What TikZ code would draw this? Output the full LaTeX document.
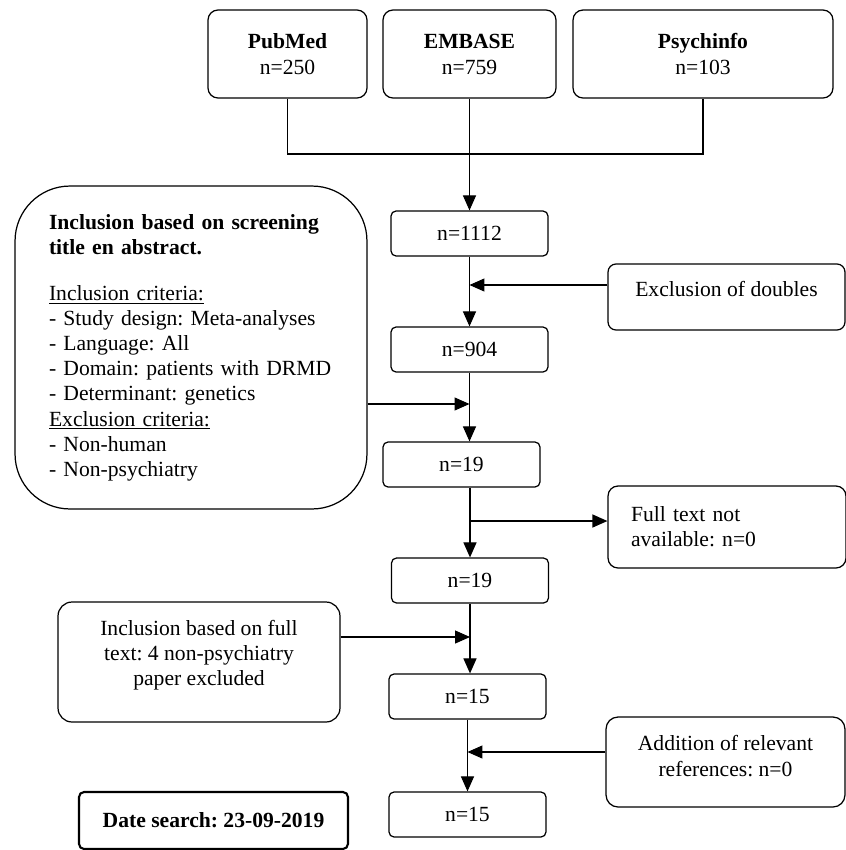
\documentclass[tikz,border=0pt]{standalone}
\usepackage{fontspec}
\setmainfont{Liberation Serif}
\usetikzlibrary{arrows.meta}
\frenchspacing

\tikzset{
  box/.style={draw,line width=0.7pt,inner sep=0pt,align=center},
  source/.style={box,rounded corners=0.2cm,minimum height=1.76cm},
  count/.style={box,rounded corners=0.1cm,minimum width=3.14cm,minimum height=0.9cm},
  flow/.style={line width=0.6pt},
  arrow/.style={flow,-{Triangle[length=8.5pt,width=7.4pt]}}
}

\begin{document}
\begin{tikzpicture}[x=0.02cm,y=-0.02cm,every node/.style={font=\fontsize{12.3}{14.3}\selectfont}]
\useasboundingbox (0,0) rectangle (846,850);
% databases
\node[source,minimum width=3.18cm] (pubmed) at (287.5,54) {\textbf{PubMed}\\[0.5pt]n=250};
\node[source,minimum width=3.46cm] (embase) at (469.5,54) {\textbf{EMBASE}\\[0.5pt]n=759};
\node[source,minimum width=5.2cm] (psych) at (703,54) {\textbf{Psychinfo}\\[0.5pt]n=103};
\coordinate (merge) at (469.5,154);
% counts
\node[count] (n1112) at (469.5,233.5) {n=1112};
\node[count] (n904) at (469.5,349.5) {n=904};
\node[count] (n19a) at (461.5,464.5) {n=19};
\node[count] (n19b) at (470,580.5) {n=19};
\node[count] (n15a) at (467.5,696.5) {n=15};
\node[count] (n15b) at (467.5,814.5) {n=15};
% side boxes
\node[box,rounded corners=1.1cm,minimum width=7.04cm,minimum height=6.46cm,
  text width=5.68cm,align=left] (screen) at (191,347.5)
  {\textbf{Inclusion based on screening}\\\textbf{title en abstract.}\\[12pt]
   \underline{Inclusion criteria:}\\- Study design: Meta-analyses\\- Language: All\\
   - Domain: patients with DRMD\\- Determinant: genetics\\\underline{Exclusion criteria:}\\
   - Non-human\\- Non-psychiatry};
\node[box,rounded corners=0.16cm,minimum width=4.74cm,minimum height=1.32cm,
  text depth=9pt] (doubles) at (726.5,297) {Exclusion of doubles};
\node[box,rounded corners=0.2cm,minimum width=4.76cm,minimum height=1.64cm,
  text width=3.84cm,align=left] (notavail) at (727,527) {Full text not\\available: n=0};
\node[box,rounded corners=0.28cm,minimum width=5.64cm,minimum height=2.4cm,
  text depth=10.5pt] (fullincl) at (199,662)
  {Inclusion based on full\\text: 4 non-psychiatry\\paper excluded};
\node[box,rounded corners=0.24cm,minimum width=4.78cm,minimum height=1.8cm,
  text depth=7pt] (addition) at (725.5,762) {Addition of relevant\\references: n=0};
\node[box,line width=1.2pt,rounded corners=0.1cm,minimum width=5.38cm,minimum height=1.14cm]
  (date) at (213.5,820.5) {\textbf{Date search: 23-09-2019}};
% connectors
\draw[flow] (pubmed.south) |- (merge) -| (psych.south);
\draw[arrow] (embase.south) -- (n1112.north);
\draw[arrow] (n1112.south) -- (n904.north);
\coordinate (dblIn) at ([yshift=0.24cm]doubles.west);
\draw[arrow] (dblIn) -- (dblIn -| n1112.south);
\draw[arrow] (n904.south) -- (n904.south |- n19a.north);
\coordinate (scrIn) at ([yshift=-1.13cm]screen.east);
\draw[arrow] (scrIn) -- (scrIn -| n904.south);
\draw[arrow] (n19b.north |- n19a.south) -- (n19b.north);
\coordinate (ftOut) at ([yshift=0.12cm]notavail.west);
\draw[arrow] (ftOut -| n19b.north) -- (ftOut);
\draw[arrow] (n19b.south) -- (n19b.south |- n15a.north);
\coordinate (fullIn) at ([yshift=0.5cm]fullincl.east);
\draw[arrow] (fullIn) -- (fullIn -| n19b.south);
\draw[arrow] (n15a.south) -- (n15b.north);
\coordinate (addIn) at ([yshift=0.2cm]addition.west);
\draw[arrow] (addIn) -- (addIn -| n15a.south);
\end{tikzpicture}
\end{document}
